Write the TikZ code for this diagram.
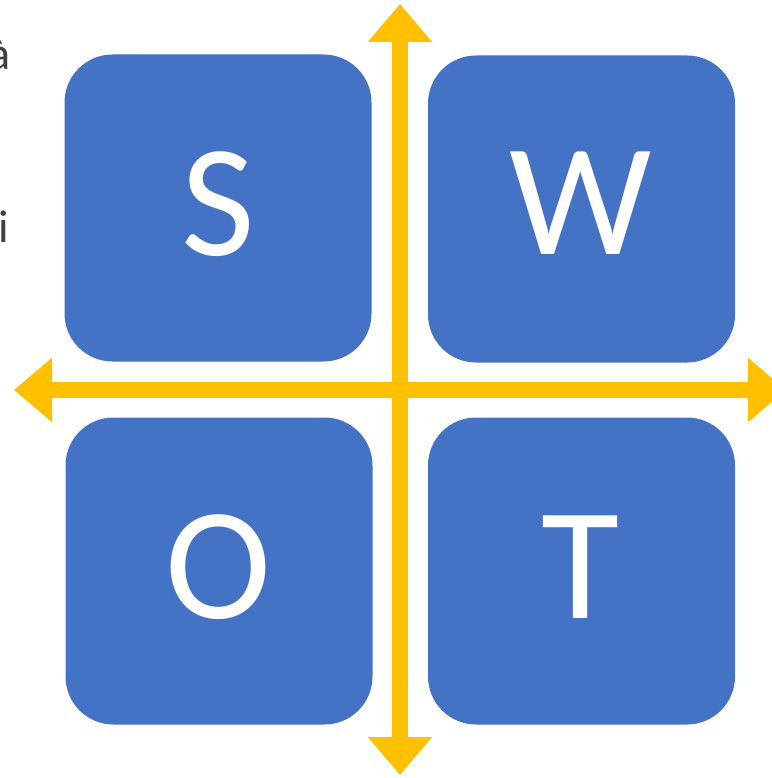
\documentclass[tikz,border=0pt]{standalone}
\usepackage{fontspec}
\setmainfont{Carlito}
\usetikzlibrary{arrows.meta}
\definecolor{swotblue}{HTML}{4472C4}
\definecolor{swotgold}{HTML}{FFC000}
\definecolor{txtgray}{HTML}{404040}
\begin{document}
\begin{tikzpicture}[x=1pt,y=-1pt,
  quad/.style={fill=swotblue,draw=none,rounded corners=48pt,minimum width=307pt,minimum height=307pt,inner sep=0pt},
  letter/.style={text=white,font=\fontsize{160}{160}\selectfont,inner sep=0pt},
  axis/.style={swotgold,line width=16pt,{Triangle[length=38pt,width=62pt]}-{Triangle[length=38pt,width=62pt]}},
  side/.style={text=txtgray,font=\fontsize{46}{46}\selectfont,inner sep=0pt,anchor=base east}]
\useasboundingbox (0,0) rectangle (771,778);
\node[quad] (S) at (218,208) {};
\node[quad] (W) at (581.5,209) {};
\node[quad] (O) at (219,571) {};
\node[quad] (T) at (581.5,571) {};
\coordinate (top) at (400,4);
\coordinate (bottom) at (400,775);
\coordinate (left) at (14,390);
\coordinate (right) at (786,390);
\draw[axis] (top) -- (bottom);
\draw[axis] (left) -- (right);
\node[letter] (Sl) at (218,204) {S};
\node[letter] (Wl) at (581,203) {W};
\node[letter] (Ol) at (218,567) {O};
\node[letter] (Tl) at (580,567) {T};
\node[side] (t1) at (11,70) {à};
\node[side] (t2) at (9,242) {i};
\end{tikzpicture}
\end{document}
